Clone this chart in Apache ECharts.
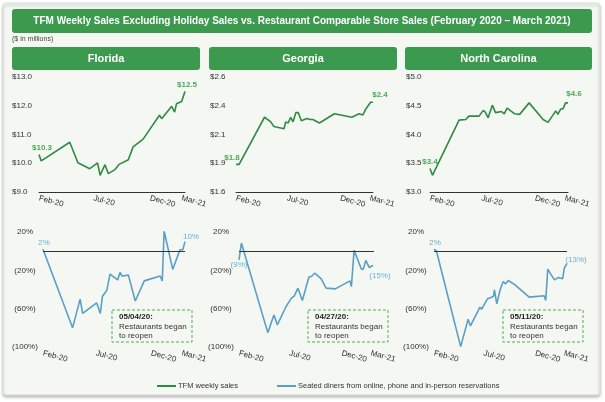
<!DOCTYPE html>
<html>
<head>
<meta charset="utf-8">
<script src="https://cdn.jsdelivr.net/npm/echarts@6/dist/echarts.min.js"></script>
<style>
  html, body { margin: 0; padding: 0; background: #fff; }
  #chartmain { width: 605px; height: 402px; }
</style>
</head>
<body>
<div id="chartmain"></div>
<script>
// x positions are days since the first week of Feb-20
var tickDays = [0, 147, 300, 385];
var tickLabels = ['Feb-20', 'Jul-20', 'Dec-20', 'Mar-21'];

// TFM weekly sales ($ in millions)
var flSalesDays = [0, 6, 83, 105, 137, 158, 165, 178, 187, 205, 216, 241, 254, 281, 325, 331, 358, 366, 371, 385, 394];
var flSales = [10.30, 10.08, 10.73, 10.02, 9.81, 10.01, 9.58, 9.95, 9.64, 9.78, 9.96, 10.12, 10.57, 10.84, 11.67, 11.55, 11.98, 11.78, 12.07, 12.15, 12.50];
var gaSalesDays = [0, 9, 82, 100, 109, 138, 143, 150, 157, 164, 172, 179, 188, 204, 213, 221, 240, 283, 333, 354, 365, 373, 387, 394];
var gaSales = [1.84, 1.84, 2.25, 2.21, 2.17, 2.15, 2.21, 2.20, 2.25, 2.21, 2.29, 2.29, 2.22, 2.24, 2.23, 2.23, 2.20, 2.28, 2.25, 2.28, 2.27, 2.32, 2.38, 2.38];
var ncSalesDays = [0, 7, 83, 102, 111, 140, 152, 158, 166, 178, 187, 204, 212, 220, 242, 256, 283, 323, 337, 359, 365, 373, 380, 387, 394];
var ncSales = [3.41, 3.29, 4.25, 4.26, 4.32, 4.32, 4.42, 4.39, 4.29, 4.51, 4.38, 4.40, 4.36, 4.46, 4.36, 4.35, 4.55, 4.26, 4.21, 4.41, 4.35, 4.44, 4.45, 4.55, 4.55];

// seated diners, % change
var flDinersDays = [0, 82, 103, 110, 149, 159, 165, 177, 186, 207, 214, 219, 237, 256, 281, 325, 331, 336, 360, 380, 388, 394];
var flDiners = [2, -80, -50, -65, -54, -65, -47, -41, -24, -30, -22, -26, -25, -52, -31, -26, -31, 21, -19, 1.5, 1.5, 10];
var gaDinersDays = [0, 7, 84, 102, 112, 137, 153, 161, 172, 177, 185, 204, 211, 221, 240, 254, 281, 324, 328, 336, 357, 363, 370, 380, 391];
var gaDiners = [-9, 8.5, -85, -66.5, -77, -58, -49, -47, -38.6, -38.6, -51.5, -27, -26.4, -23, -28.8, -38.6, -39.3, -31, -37, 0.8, -18.7, -18.7, -9.6, -17, -15];
var ncDinersDays = [0, 7, 79, 101, 108, 136, 141, 158, 168, 176, 179, 186, 196, 205, 212, 220, 240, 282, 326, 331, 337, 344, 357, 369, 381, 386, 394];
var ncDiners = [2, 0.5, -99.6, -71, -78, -58.5, -60.6, -50, -48.3, -47.3, -40.3, -55, -40.3, -31.6, -34.1, -30.6, -35.1, -48, -46.6, -51.5, -18.7, -22.9, -29.9, -27.4, -28.8, -17.6, -13];

var states = ['Florida', 'Georgia', 'North Carolina'];
var reopenDates = ['05/04/20:', '04/27/20:', '05/11/20:'];

var green = '#2f8a46', greenLbl = '#4aa95a', blue = '#5a9fc5', blueLbl = '#6badd1';
var barGreen = '#3c9a4f';
var font = "'Liberation Sans', Arial, sans-serif";

// grid boxes
var topGrids = [{left: 39, width: 146}, {left: 236, width: 137}, {left: 430, width: 138}];
var botGrids = [{left: 43, width: 142}, {left: 239, width: 135}, {left: 434, width: 133}];
var headerBars = [{x: 12, w: 188}, {x: 209, w: 188}, {x: 405, w: 187}];
var noteBoxes = [112, 308, 503];

var salesY = [{min: 9, max: 13, interval: 1}, {min: 1.6, max: 2.6, interval: 0.25}, {min: 3, max: 5, interval: 0.5}];
var salesMargin = [27, 26, 24];
var lblTweak = [
  [[3, 0], [2, 0]],
  [[-4, 0], [7, 0]],
  [[0, 0], [6, -2]]
];
var dinLblTweak = [
  [{position: 'top', distance: 2, offset: [1, 0]}, {position: 'top', distance: 1, offset: [6, 0]}],
  [{position: 'bottom', distance: 1, offset: [0, 0]}, {position: 'bottom', distance: 6, offset: [7, 0]}],
  [{position: 'top', distance: 2, offset: [1, 0]}, {position: 'top', distance: 0, offset: [9, 0]}]
];

function pct(v) {
  var r = Math.round(v);
  return r < 0 ? '(' + (-r) + '%)' : r + '%';
}
function money(v) {
  return '$' + (Math.round(v * 10 + 1e-6) / 10).toFixed(1);
}

function buildSales(days, vals, i) {
  return days.map(function (d, k) {
    var item = {value: [d, vals[k]]};
    if (k === 0 || k === days.length - 1) {
      item.label = {
        show: true, position: 'top', distance: 3,
        offset: lblTweak[i][k === 0 ? 0 : 1],
        formatter: money(vals[k]),
        color: greenLbl, fontWeight: 'bold', fontSize: 8, fontFamily: font
      };
    }
    return item;
  });
}
function buildDiners(days, vals, i) {
  return days.map(function (d, k) {
    var item = {value: [d, vals[k]]};
    if (k === 0 || k === days.length - 1) {
      var t = dinLblTweak[i][k === 0 ? 0 : 1];
      item.label = {
        show: true, position: t.position, distance: t.distance, offset: t.offset,
        formatter: pct(vals[k]),
        color: blueLbl, fontSize: 8, fontFamily: font
      };
    }
    return item;
  });
}

var salesDays = [flSalesDays, gaSalesDays, ncSalesDays];
var salesVals = [flSales, gaSales, ncSales];
var dinDays = [flDinersDays, gaDinersDays, ncDinersDays];
var dinVals = [flDiners, gaDiners, ncDiners];

var grid = [], xAxis = [], yAxis = [], series = [], graphic = [];

function xAx(idx, top) {
  return {
    type: 'value', gridIndex: idx, min: 0, max: 394,
    axisLine: {show: top, lineStyle: {color: '#333', width: 1}},
    axisTick: {show: false},
    splitLine: {show: false},
    axisLabel: {
      customValues: tickDays, rotate: -15, margin: 6,
      fontSize: 8, color: '#333', fontFamily: font,
      formatter: function (v) { return tickLabels[tickDays.indexOf(v)] || ''; }
    }
  };
}

for (var i = 0; i < 3; i++) {
  // sales (top)
  grid.push({left: topGrids[i].left, width: topGrids[i].width, top: 77, height: 115});
  xAxis.push(xAx(grid.length - 1, true));
  yAxis.push({
    type: 'value', gridIndex: grid.length - 1,
    min: salesY[i].min, max: salesY[i].max, interval: salesY[i].interval,
    axisLine: {show: false}, axisTick: {show: false}, splitLine: {show: false},
    axisLabel: {align: 'left', margin: salesMargin[i], fontSize: 8, color: '#333', fontFamily: font, formatter: money}
  });
  series.push({
    name: 'TFM weekly sales', type: 'line', xAxisIndex: xAxis.length - 1, yAxisIndex: yAxis.length - 1,
    data: buildSales(salesDays[i], salesVals[i], i),
    symbol: 'circle', symbolSize: 0.01, showSymbol: true, showAllSymbol: true,
    lineStyle: {color: green, width: 1.6}, itemStyle: {color: green}
  });

  // diners (bottom)
  grid.push({left: botGrids[i].left, width: botGrids[i].width, top: 232, height: 115});
  xAxis.push(xAx(grid.length - 1, false));
  yAxis.push({
    type: 'value', gridIndex: grid.length - 1, min: -100, max: 20, interval: 40,
    axisLine: {show: false}, axisTick: {show: false}, splitLine: {show: false},
    axisLabel: {align: 'center', margin: 18, fontSize: 8, color: '#333', fontFamily: font, formatter: pct}
  });
  series.push({
    name: 'Seated diners from online, phone and in-person reservations', type: 'line',
    xAxisIndex: xAxis.length - 1, yAxisIndex: yAxis.length - 1,
    data: buildDiners(dinDays[i], dinVals[i], i),
    symbol: 'circle', symbolSize: 0.01, showSymbol: true, showAllSymbol: true,
    lineStyle: {color: blue, width: 1.6}, itemStyle: {color: blue},
    markLine: {
      silent: true, symbol: 'none', label: {show: false},
      lineStyle: {color: '#333', width: 1, type: 'solid'},
      data: [{yAxis: 0}]
    }
  });

  // state header bar
  graphic.push({
    type: 'rect', shape: {x: headerBars[i].x, y: 47, width: headerBars[i].w, height: 23, r: 3},
    style: {fill: barGreen}, z: 10
  });
  graphic.push({
    type: 'text', x: headerBars[i].x + headerBars[i].w / 2, y: 58.5, z: 11,
    style: {text: states[i], fill: '#fff', font: 'bold 11px ' + font, align: 'center', verticalAlign: 'middle'}
  });

  // reopen note
  graphic.push({
    type: 'rect', shape: {x: noteBoxes[i], y: 310, width: 80, height: 32},
    style: {fill: 'none', stroke: '#4caf50', lineWidth: 1, lineDash: [3, 2]}, z: 10
  });
  graphic.push({
    type: 'text', x: noteBoxes[i] + 7, y: 313, z: 11,
    style: {text: reopenDates[i], fill: '#222', font: 'bold 8px ' + font}
  });
  graphic.push({
    type: 'text', x: noteBoxes[i] + 7, y: 322, z: 11,
    style: {text: 'Restaurants began\nto reopen', fill: '#333', font: '8px ' + font, lineHeight: 9.5}
  });
}

// card background and title
graphic.unshift(
  {type: 'rect', shape: {x: 3, y: 3, width: 597, height: 392, r: 3},
   style: {fill: '#f5f8f2', stroke: '#d8dcd6', lineWidth: 1, shadowBlur: 3, shadowOffsetY: 2, shadowColor: 'rgba(0,0,0,0.25)'}, z: -10},
  {type: 'rect', shape: {x: 12, y: 9, width: 580, height: 24, r: 3}, style: {fill: barGreen}, z: 10},
  {type: 'text', x: 302, y: 21, z: 11,
   style: {text: 'TFM Weekly Sales Excluding Holiday Sales vs. Restaurant Comparable Store Sales (February 2020 \u2013 March 2021)',
           fill: '#fff', font: 'bold 10px ' + font, align: 'center', verticalAlign: 'middle'}},
  {type: 'text', x: 12, y: 36, z: 11, style: {text: '($ in millions)', fill: '#444', font: '7px ' + font}}
);

var myChart = echarts.init(document.getElementById('chartmain'));
myChart.setOption({
  animation: false,
  grid: grid,
  xAxis: xAxis,
  yAxis: yAxis,
  series: series,
  graphic: graphic,
  legend: {
    left: 152, top: 377, icon: 'rect', itemWidth: 19, itemHeight: 2, itemGap: 39,
    textStyle: {fontSize: 7.5, color: '#333', fontFamily: font, padding: [0, 0, 0, -3]},
    data: ['TFM weekly sales', 'Seated diners from online, phone and in-person reservations']
  }
});
</script>
</body>
</html>
